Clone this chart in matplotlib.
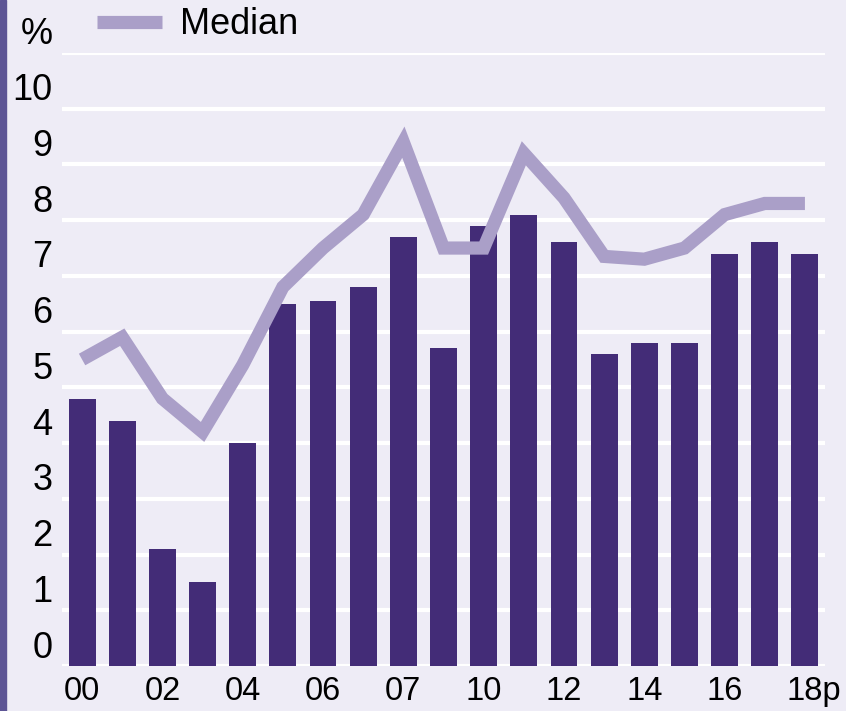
import matplotlib.pyplot as plt
import matplotlib as mpl
from matplotlib.transforms import ScaledTranslation
from matplotlib.patches import Rectangle

mpl.rc("font", family=["Liberation Sans", "DejaVu Sans"], size=26)

# ----- data -----
years = list(range(2000, 2019))
bar_values = [4.8, 4.4, 2.1, 1.5, 4.0, 6.5, 6.55, 6.8, 7.7, 5.7,
              7.9, 8.1, 7.6, 5.6, 5.8, 5.8, 7.4, 7.6, 7.4]
median_values = [5.5, 5.9, 4.8, 4.2, 5.4, 6.8, 7.5, 8.1, 9.4, 7.5,
                  7.5, 9.2, 8.4, 7.35, 7.3, 7.5, 8.1, 8.3, 8.3]
xtick_pos = [0, 2, 4, 6, 8, 10, 12, 14, 16, 18]
xtick_labels = ["00", "02", "04", "06", "07", "10", "12", "14", "16", "18p"]
ytick_labels = [str(v) for v in range(11)] + ["%"]

bg = "#eeecf6"
bar_color = "#432c77"
line_color = "#aa9fc8"

fig = plt.figure(figsize=(8.46, 7.11), dpi=100, facecolor=bg)
ax = fig.add_axes([62 / 846, 45 / 711, 763 / 846, 613 / 711], facecolor=bg)

# dark strip on the left edge
fig.patches.append(Rectangle((0, 0), 6 / 846, 1, transform=fig.transFigure,
                             color="#5d5595", zorder=0))

xs = list(range(len(years)))
ax.bar(xs, bar_values, width=0.67, color=bar_color, zorder=2)
ax.plot(xs, median_values, color=line_color, lw=9.5, solid_capstyle="butt",
        solid_joinstyle="miter", zorder=3, label="Median")

ax.set_xlim(-0.5, 18.5)
ax.set_ylim(0, 11)
ax.set_yticks(range(12))
ax.set_yticklabels(ytick_labels)
ax.yaxis.grid(True, color="white", lw=3)
ax.set_axisbelow(True)
ax.set_xticks(xtick_pos)
ax.set_xticklabels(xtick_labels, fontsize=23.5)
ax.tick_params(axis="both", length=0)
ax.tick_params(axis="y", pad=7)
ax.tick_params(axis="x", pad=7)
for s in ax.spines.values():
    s.set_visible(False)

# y labels sit just above their gridline
up = ScaledTranslation(0, 22 / 100, fig.dpi_scale_trans)
for lab in ax.get_yticklabels():
    lab.set_transform(lab.get_transform() + up)
# "18p" is centred on the "18" part
xl = ax.get_xticklabels()[-1]
xl.set_transform(xl.get_transform() + ScaledTranslation(9 / 100, 0, fig.dpi_scale_trans))

ax.legend(loc="upper left", bbox_to_anchor=(0.027, 1.098), frameon=False,
          handlelength=1.8, handletextpad=0.5, borderaxespad=0)

fig.savefig("out.png", dpi=100, facecolor=bg)
